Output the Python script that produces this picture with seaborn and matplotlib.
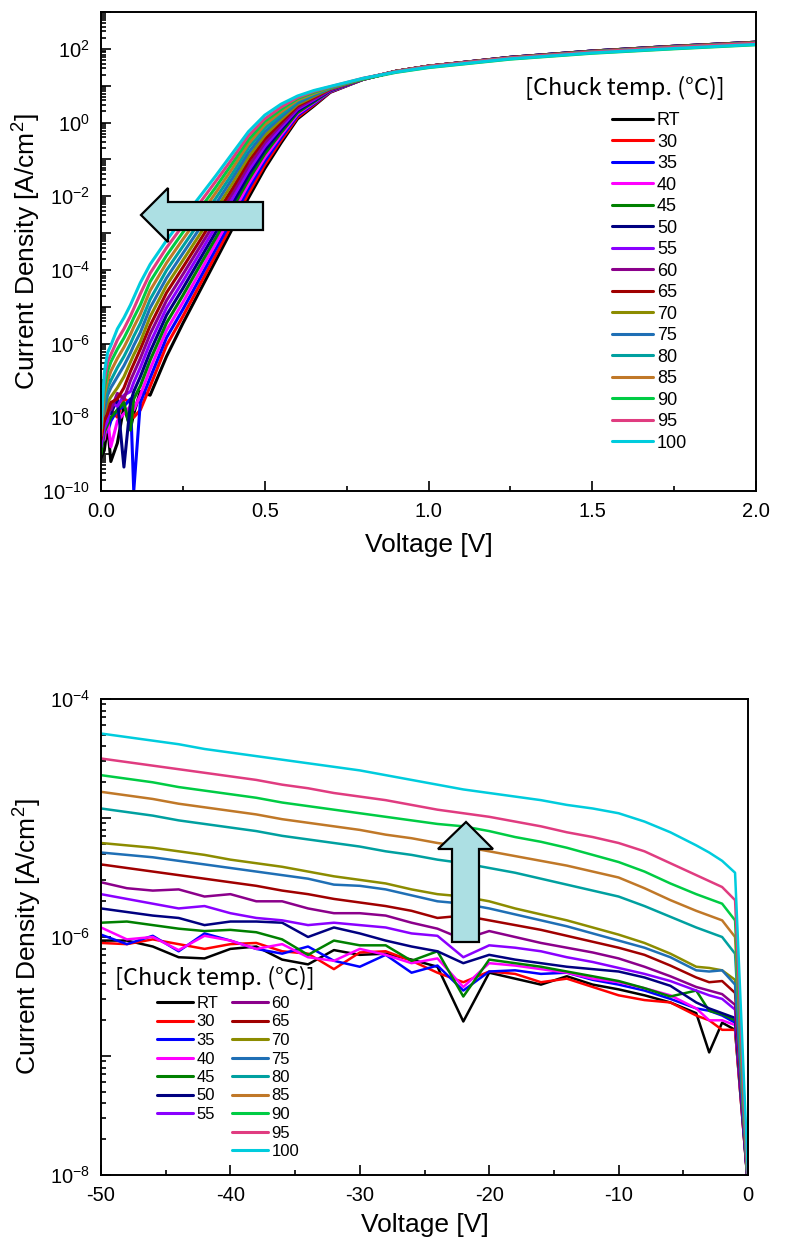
import numpy as np
import pandas as pd
import matplotlib
matplotlib.use("Agg")
import matplotlib.pyplot as plt
import seaborn as sns
from matplotlib.lines import Line2D
from matplotlib.patches import Polygon
from matplotlib.ticker import MultipleLocator, LogLocator, FuncFormatter, NullFormatter

sns.set_style("white")
plt.rcParams["font.family"] = ["Liberation Sans", "DejaVu Sans"]
plt.rcParams["mathtext.fontset"] = "custom"
plt.rcParams["mathtext.rm"] = "Liberation Sans"
plt.rcParams["mathtext.it"] = "Liberation Sans:italic"
plt.rcParams["axes.unicode_minus"] = False
plt.rcParams["text.color"] = "black"
plt.rcParams["axes.labelcolor"] = "black"

# ---- series ----
temps = ["RT", "30", "35", "40", "45", "50", "55", "60", "65", "70", "75", "80", "85", "90", "95", "100"]
colors = ["#000000", "#FF0000", "#0000FF", "#FF00FF", "#008000", "#000080", "#8A00FF", "#8B008B",
          "#A00000", "#8C8C00", "#1F6FB5", "#00A0A0", "#C07828", "#00CC44", "#E03C80", "#00CCDD"]

# forward bias: voltage grid [V] and log10(J [A/cm2]) per chuck temperature
v_fwd = [0.0, 0.01, 0.02, 0.03, 0.05, 0.07, 0.09, 0.10, 0.12, 0.15,
         0.2, 0.25, 0.3, 0.35, 0.4, 0.45, 0.5, 0.55, 0.6, 0.65,
         0.7, 0.8, 0.9, 1.0, 1.25, 1.5, 1.75, 2.0]
fwd_RT = [-9.1, -8.9, -8.2, -9.2, -8.7, -7.7, -8.3, -7.9, -7.3, -7.4,
          -6.35, -5.45, -4.60, -3.75, -2.90, -2.05, -1.25, -0.55, 0.10, 0.45,
          0.82, 1.17, 1.39, 1.53, 1.77, 1.94, 2.07, 2.18]
fwd_30 = [-8.6, -8.5, -7.7, -7.8, -8.0, -7.5, -7.6, -8.0, -7.8, -7.16,
          -6.05, -5.26, -4.43, -3.60, -2.76, -1.93, -1.15, -0.48, 0.14, 0.48,
          0.83, 1.17, 1.39, 1.53, 1.77, 1.94, 2.07, 2.18]
fwd_35 = [-8.9, -8.2, -8.4, -8.1, -7.8, -7.7, -7.5, -10.0, -7.6, -6.93,
          -5.84, -5.07, -4.26, -3.44, -2.63, -1.80, -1.05, -0.41, 0.19, 0.51,
          0.84, 1.17, 1.39, 1.53, 1.77, 1.94, 2.07, 2.18]
fwd_40 = [-8.7, -8.6, -8.0, -8.8, -8.1, -7.9, -7.7, -7.8, -7.4, -6.69,
          -5.64, -4.88, -4.09, -3.29, -2.49, -1.68, -0.95, -0.34, 0.23, 0.54,
          0.85, 1.17, 1.39, 1.53, 1.77, 1.94, 2.07, 2.18]
fwd_45 = [-9.0, -8.4, -8.2, -8.0, -7.8, -7.6, -8.35, -7.5, -7.15, -6.45,
          -5.44, -4.69, -3.91, -3.14, -2.35, -1.56, -0.85, -0.27, 0.27, 0.56,
          0.86, 1.17, 1.39, 1.53, 1.77, 1.94, 2.07, 2.18]
fwd_50 = [-8.4, -8.1, -7.9, -7.9, -7.5, -9.35, -7.6, -7.3, -6.9, -6.22,
          -5.23, -4.50, -3.74, -2.98, -2.22, -1.43, -0.75, -0.20, 0.32, 0.59,
          0.87, 1.18, 1.39, 1.53, 1.77, 1.94, 2.07, 2.18]
fwd_55 = [-8.8, -8.3, -8.1, -7.6, -7.7, -7.4, -7.3, -7.05, -6.65, -5.98,
          -5.03, -4.31, -3.57, -2.83, -2.08, -1.31, -0.65, -0.13, 0.36, 0.62,
          0.88, 1.18, 1.39, 1.53, 1.76, 1.93, 2.06, 2.17]
fwd_60 = [-8.3, -8.0, -7.6, -7.8, -7.35, -7.5, -7.0, -6.8, -6.4, -5.74,
          -4.83, -4.12, -3.40, -2.68, -1.94, -1.19, -0.55, -0.06, 0.40, 0.65,
          0.89, 1.18, 1.39, 1.53, 1.76, 1.93, 2.06, 2.17]
fwd_65 = [-8.6, -8.1, -7.9, -7.6, -7.5, -7.2, -6.75, -6.55, -6.15, -5.51,
          -4.62, -3.93, -3.23, -2.52, -1.81, -1.06, -0.45, 0.01, 0.45, 0.68,
          0.91, 1.18, 1.39, 1.53, 1.76, 1.93, 2.06, 2.17]
fwd_70 = [-8.0, -7.9, -7.6, -7.45, -7.2, -6.9, -6.5, -6.3, -5.95, -5.27,
          -4.42, -3.74, -3.06, -2.37, -1.67, -0.94, -0.35, 0.08, 0.49, 0.71,
          0.92, 1.18, 1.39, 1.53, 1.76, 1.93, 2.06, 2.17]
fwd_75 = [-8.2, -7.8, -7.4, -7.2, -6.9, -6.6, -6.25, -6.05, -5.7, -5.03,
          -4.22, -3.55, -2.89, -2.22, -1.53, -0.82, -0.25, 0.15, 0.53, 0.74,
          0.93, 1.19, 1.38, 1.52, 1.75, 1.92, 2.05, 2.16]
fwd_80 = [-7.8, -7.6, -7.2, -7.0, -6.65, -6.35, -6.0, -5.8, -5.45, -4.80,
          -4.01, -3.36, -2.71, -2.06, -1.40, -0.69, -0.15, 0.22, 0.58, 0.77,
          0.94, 1.19, 1.38, 1.52, 1.75, 1.91, 2.04, 2.15]
fwd_85 = [-8.5, -7.4, -7.0, -6.75, -6.4, -6.1, -5.75, -5.55, -5.2, -4.56,
          -3.81, -3.17, -2.54, -1.91, -1.26, -0.58, -0.06, 0.29, 0.61, 0.79,
          0.95, 1.19, 1.38, 1.52, 1.75, 1.91, 2.04, 2.15]
fwd_90 = [-7.9, -7.2, -6.75, -6.5, -6.15, -5.85, -5.5, -5.3, -4.95, -4.32,
          -3.61, -2.98, -2.37, -1.76, -1.12, -0.47, 0.03, 0.36, 0.65, 0.82,
          0.96, 1.18, 1.36, 1.49, 1.72, 1.88, 2.00, 2.11]
fwd_95 = [-8.0, -7.0, -6.5, -6.3, -5.9, -5.6, -5.25, -5.05, -4.65, -4.09,
          -3.40, -2.79, -2.20, -1.60, -0.99, -0.36, 0.10, 0.42, 0.68, 0.85,
          0.97, 1.20, 1.38, 1.52, 1.75, 1.91, 2.04, 2.15]
fwd_100 = [-8.3, -6.8, -6.25, -6.05, -5.6, -5.3, -4.95, -4.75, -4.35, -3.85,
           -3.20, -2.60, -2.03, -1.45, -0.85, -0.25, 0.20, 0.50, 0.72, 0.87,
           0.98, 1.20, 1.37, 1.50, 1.73, 1.89, 2.01, 2.12]

# reverse bias: voltage grid [V] and log10(J [A/cm2])
v_rev = [-50, -48, -46, -44, -42, -40, -38, -36, -34, -32, -30, -28, -26, -24,
         -22, -20, -18, -16, -14, -12, -10, -8, -6, -4, -3, -2, -1, 0]
rev_RT = [-6.03, -6.03, -6.08, -6.17, -6.18, -6.10, -6.08, -6.19, -6.23, -6.11, -6.15, -6.14, -6.19, -6.25,
          -6.71, -6.30, -6.35, -6.40, -6.33, -6.40, -6.44, -6.49, -6.55, -6.64, -6.97, -6.72, -6.78, -8.1]
rev_30 = [-6.05, -6.06, -6.02, -6.06, -6.10, -6.06, -6.05, -6.12, -6.14, -6.27, -6.13, -6.12, -6.20, -6.30,
          -6.38, -6.29, -6.31, -6.38, -6.35, -6.42, -6.49, -6.53, -6.55, -6.66, -6.70, -6.78, -6.78, -8.1]
rev_35 = [-5.98, -6.06, -5.99, -6.12, -5.97, -6.03, -6.10, -6.14, -6.08, -6.20, -6.25, -6.15, -6.30, -6.24,
          -6.45, -6.29, -6.28, -6.31, -6.30, -6.36, -6.40, -6.45, -6.52, -6.60, -6.62, -6.66, -6.72, -8.1]
rev_40 = [-5.92, -6.02, -6.00, -6.11, -5.99, -6.03, -6.10, -6.06, -6.17, -6.20, -6.10, -6.15, -6.22, -6.18,
          -6.42, -6.22, -6.24, -6.27, -6.30, -6.35, -6.38, -6.43, -6.49, -6.60, -6.70, -6.70, -6.74, -8.1]
rev_45 = [-5.88, -5.87, -5.90, -5.93, -5.95, -5.94, -5.96, -6.02, -6.15, -6.03, -6.07, -6.07, -6.20, -6.12,
          -6.50, -6.19, -6.22, -6.25, -6.29, -6.33, -6.37, -6.43, -6.50, -6.45, -6.62, -6.65, -6.70, -8.1]
rev_50 = [-5.76, -5.79, -5.82, -5.84, -5.90, -5.87, -5.87, -5.88, -6.00, -5.92, -5.97, -6.03, -6.08, -6.12,
          -6.22, -6.15, -6.19, -6.22, -6.25, -6.27, -6.29, -6.34, -6.41, -6.55, -6.60, -6.64, -6.68, -8.1]
rev_55 = [-5.64, -5.68, -5.72, -5.76, -5.74, -5.80, -5.84, -5.86, -5.90, -5.88, -5.90, -5.92, -5.97, -5.99,
          -6.17, -6.07, -6.09, -6.12, -6.17, -6.21, -6.26, -6.31, -6.37, -6.45, -6.49, -6.52, -6.61, -8.1]
rev_60 = [-5.54, -5.59, -5.61, -5.60, -5.66, -5.64, -5.70, -5.70, -5.76, -5.80, -5.80, -5.82, -5.88, -5.93,
          -6.02, -5.95, -6.00, -6.05, -6.09, -6.13, -6.18, -6.25, -6.33, -6.42, -6.45, -6.48, -6.57, -8.1]
rev_65 = [-5.39, -5.42, -5.45, -5.48, -5.51, -5.54, -5.57, -5.61, -5.64, -5.68, -5.71, -5.74, -5.78, -5.84,
          -5.82, -5.86, -5.90, -5.94, -5.99, -6.04, -6.09, -6.15, -6.24, -6.34, -6.38, -6.37, -6.47, -8.1]
rev_70 = [-5.21, -5.23, -5.25, -5.28, -5.31, -5.35, -5.38, -5.41, -5.45, -5.49, -5.52, -5.55, -5.60, -5.64,
          -5.66, -5.70, -5.76, -5.81, -5.86, -5.92, -5.98, -6.05, -6.14, -6.25, -6.26, -6.28, -6.36, -8.1]
rev_75 = [-5.29, -5.31, -5.33, -5.36, -5.39, -5.42, -5.45, -5.48, -5.51, -5.56, -5.57, -5.60, -5.65, -5.70,
          -5.72, -5.76, -5.81, -5.86, -5.91, -5.97, -6.03, -6.09, -6.17, -6.28, -6.29, -6.28, -6.40, -8.1]
rev_80 = [-4.92, -4.95, -4.98, -5.02, -5.05, -5.08, -5.11, -5.15, -5.18, -5.21, -5.24, -5.28, -5.31, -5.35,
          -5.38, -5.42, -5.46, -5.51, -5.56, -5.61, -5.66, -5.74, -5.83, -5.92, -5.96, -6.00, -6.14, -8.1]
rev_85 = [-4.78, -4.81, -4.84, -4.88, -4.91, -4.94, -4.97, -5.01, -5.04, -5.07, -5.10, -5.14, -5.17, -5.21,
          -5.24, -5.28, -5.32, -5.36, -5.40, -5.45, -5.50, -5.59, -5.69, -5.78, -5.82, -5.86, -6.00, -8.1]
rev_90 = [-4.64, -4.67, -4.70, -4.74, -4.77, -4.80, -4.83, -4.87, -4.90, -4.93, -4.96, -4.99, -5.02, -5.05,
          -5.07, -5.11, -5.16, -5.20, -5.25, -5.31, -5.37, -5.45, -5.55, -5.64, -5.68, -5.72, -5.86, -8.1]
rev_95 = [-4.50, -4.53, -4.56, -4.59, -4.62, -4.65, -4.68, -4.72, -4.75, -4.79, -4.82, -4.85, -4.89, -4.93,
          -4.96, -4.99, -5.03, -5.07, -5.12, -5.16, -5.21, -5.28, -5.38, -5.48, -5.53, -5.58, -5.69, -8.1]
rev_100 = [-4.29, -4.32, -4.35, -4.38, -4.42, -4.45, -4.48, -4.51, -4.54, -4.57, -4.60, -4.64, -4.68, -4.72,
           -4.76, -4.79, -4.82, -4.85, -4.89, -4.92, -4.96, -5.03, -5.12, -5.23, -5.29, -5.36, -5.46, -8.0]

fwd_sets = [fwd_RT, fwd_30, fwd_35, fwd_40, fwd_45, fwd_50, fwd_55, fwd_60,
            fwd_65, fwd_70, fwd_75, fwd_80, fwd_85, fwd_90, fwd_95, fwd_100]
rev_sets = [rev_RT, rev_30, rev_35, rev_40, rev_45, rev_50, rev_55, rev_60,
            rev_65, rev_70, rev_75, rev_80, rev_85, rev_90, rev_95, rev_100]


def long_table(v, sets):
    rows = []
    for t, logj in zip(temps, sets):
        for x, y in zip(v, logj):
            rows.append((t, x, 10.0 ** y))
    return pd.DataFrame(rows, columns=["temp", "V", "J"])


df_fwd = long_table(v_fwd, fwd_sets)
df_rev = long_table(v_rev, rev_sets)
palette = dict(zip(temps, colors))

W, H = 789, 1259
fig = plt.figure(figsize=(W / 100, H / 100), dpi=100)


def px_axes(l, t, r, b):
    return fig.add_axes([l / W, 1 - b / H, (r - l) / W, (b - t) / H])


def decade_fmt(v, pos):
    e = int(round(np.log10(v)))
    return rf"$10^{{{e}}}$" if e % 2 == 0 else ""


def style_axes(ax):
    ax.set_yscale("log")
    ax.yaxis.set_major_locator(LogLocator(base=10, numticks=30))
    ax.yaxis.set_minor_locator(LogLocator(base=10, subs=np.arange(2, 10), numticks=30))
    ax.yaxis.set_major_formatter(FuncFormatter(decade_fmt))
    ax.yaxis.set_minor_formatter(NullFormatter())
    ax.tick_params(which="both", direction="in", bottom=True, left=True, top=False, right=False,
                   width=1.2, colors="black")
    ax.tick_params(which="major", length=7, labelsize=14.5, pad=8)
    ax.tick_params(which="minor", length=3.5)
    for s in ax.spines.values():
        s.set_visible(True)
        s.set_color("black")
        s.set_linewidth(1.4)
    ax.set_ylabel("Current Density [A/cm$^2$]", fontsize=19)
    ax.set_xlabel("Voltage [V]", fontsize=19)


def block_arrow(pts):
    poly = Polygon([(x / W, 1 - y / H) for x, y in pts], closed=True, transform=fig.transFigure,
                   facecolor="#ACDFE3", edgecolor="black", linewidth=1.6, zorder=5)
    fig.add_artist(poly)


# ---- forward characteristics ----
ax1 = px_axes(101, 12, 756, 491)
sns.lineplot(data=df_fwd, x="V", y="J", hue="temp", hue_order=temps, palette=palette,
             estimator=None, sort=False, linewidth=2.2, legend=False, ax=ax1)
style_axes(ax1)
ax1.set_xlim(0, 2.0)
ax1.set_ylim(1e-10, 1e3)
ax1.xaxis.set_major_locator(MultipleLocator(0.5))
ax1.xaxis.set_minor_locator(MultipleLocator(0.25))
ax1.xaxis.set_major_formatter(FuncFormatter(lambda v, p: f"{v:.1f}"))
ax1.yaxis.set_label_coords(-0.088, 0.5)
ax1.xaxis.set_label_coords(0.5, -0.088)

handles = [Line2D([], [], color=c, lw=2.2) for c in colors]
ax1.legend(handles, temps, loc="upper left", bbox_to_anchor=((612 - 101) / 655, (491 - 112) / 479),
           frameon=False, fontsize=13, handlelength=2.27, handletextpad=0.22,
           labelspacing=0.25, borderpad=0, borderaxespad=0)
ax1.text((625 - 101) / 655, (491 - 88) / 479, "[Chuck temp. (°C)]", transform=ax1.transAxes,
         ha="center", va="center", fontsize=17, family=["Noto Sans CJK KR", "DejaVu Sans"])

block_arrow([(141, 215), (168, 188), (168, 202), (263, 202), (263, 230), (168, 230), (168, 242)])

# ---- reverse characteristics ----
ax2 = px_axes(101, 699, 748, 1175)
sns.lineplot(data=df_rev, x="V", y="J", hue="temp", hue_order=temps, palette=palette,
             estimator=None, sort=False, linewidth=1.8, legend=False, ax=ax2)
style_axes(ax2)
ax2.set_xlim(-50, 0)
ax2.set_ylim(1e-8, 1e-4)
ax2.xaxis.set_major_locator(MultipleLocator(10))
ax2.xaxis.set_minor_locator(MultipleLocator(5))
ax2.xaxis.set_major_formatter(FuncFormatter(lambda v, p: f"{v:.0f}"))
ax2.yaxis.set_label_coords(-0.088, 0.5)
ax2.xaxis.set_label_coords(0.5, -0.08)

h2 = [Line2D([], [], color=c, lw=2.2) for c in colors]
kw = dict(loc="upper left", frameon=False, fontsize=12, handlelength=2.16, handletextpad=0.2,
          labelspacing=0.21, borderpad=0, borderaxespad=0)
legA = ax2.legend(h2[:7], temps[:7], bbox_to_anchor=((157 - 101) / 647, (1175 - 996) / 476), **kw)
ax2.add_artist(legA)
ax2.legend(h2[7:], temps[7:], bbox_to_anchor=((232 - 101) / 647, (1175 - 996) / 476), **kw)
ax2.text((215 - 101) / 647, (1175 - 978) / 476, "[Chuck temp. (°C)]", transform=ax2.transAxes,
         ha="center", va="center", fontsize=17, family=["Noto Sans CJK KR", "DejaVu Sans"])

block_arrow([(466, 822), (493, 849), (479, 849), (479, 942), (452, 942), (452, 849), (438, 849)])

fig.savefig("out.png", dpi=100)
